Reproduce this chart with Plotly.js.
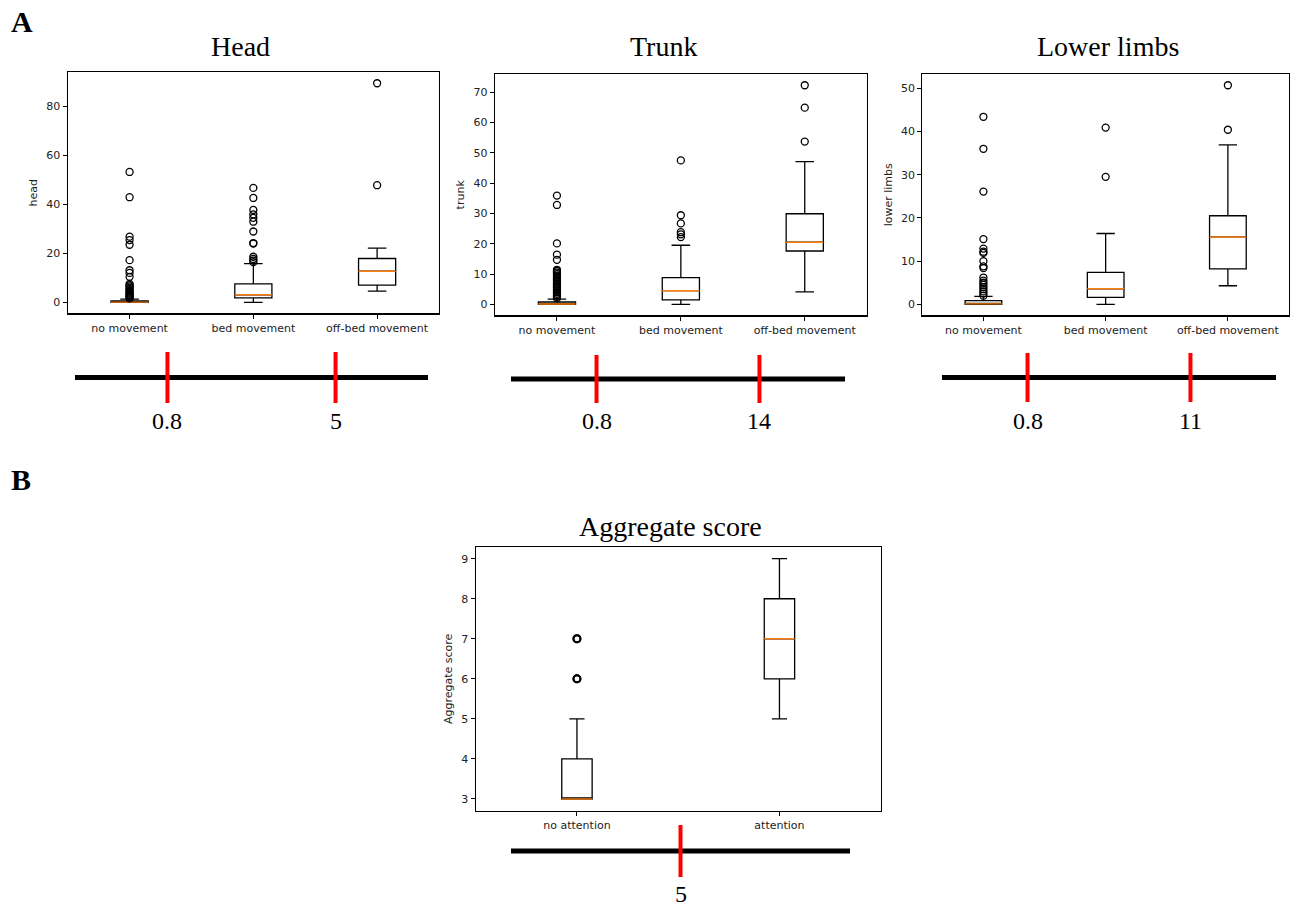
<!DOCTYPE html>
<html>
<head>
<meta charset="utf-8">
<script src="https://cdn.plot.ly/plotly-3.0.1.min.js"></script>
<style>html,body{margin:0;padding:0;background:#fff;}#chart{width:1295px;height:907px;}</style>
</head>
<body>
<div id="chart"></div>
<script>
// ---------- data ----------
const movementCats = ["no movement", "bed movement", "off-bed movement"];
const attentionCats = ["no attention", "attention"];

// Head
const headQ1  = [0, 1.8, 7.0];
const headMed = [0.1, 3.1, 12.7];
const headQ3  = [0.6, 7.5, 17.9];
const headLo  = [0, 0, 4.6];
const headHi  = [1.3, 15.8, 22.1];
const headOutNo  = [1.6, 2.0, 2.4, 2.8, 3.2, 3.6, 4.0, 4.5, 5.0, 5.5, 6.0, 6.5, 7.0, 7.5, 10.4, 12.0, 13.1, 17.2, 23.5, 25.4, 26.8, 42.9, 53.2];
const headOutBed = [16.4, 17.0, 17.7, 18.6, 24.0, 24.2, 28.9, 32.9, 34.5, 35.9, 37.7, 42.6, 46.7];
const headOutOff = [47.8, 89.4];

// Trunk
const trunkQ1  = [0, 1.5, 17.6];
const trunkMed = [0.1, 4.5, 20.5];
const trunkQ3  = [0.8, 8.8, 29.9];
const trunkLo  = [0, 0, 4.1];
const trunkHi  = [1.7, 19.5, 47.1];
const trunkOutNo  = [2, 2.5, 3, 3.5, 4, 4.5, 5, 5.5, 6, 6.5, 7, 7.5, 8, 8.5, 9, 9.5, 10, 10.5, 11, 11.4, 14.7, 16.4, 20.1, 32.8, 35.9];
const trunkOutBed = [22.2, 23.1, 23.8, 26.7, 29.4, 47.5];
const trunkOutOff = [53.7, 64.9, 72.3];

// Lower limbs
const lowerQ1  = [0, 1.6, 8.2];
const lowerMed = [0.1, 3.6, 15.6];
const lowerQ3  = [0.85, 7.4, 20.5];
const lowerLo  = [0, 0, 4.3];
const lowerHi  = [1.85, 16.4, 36.9];
const lowerOutNo  = [2, 2.5, 3, 3.5, 4, 4.5, 5, 5.5, 6.2, 8.4, 8.8, 10, 11.9, 12.2, 12.9, 15.1, 26.1, 36.0, 43.4];
const lowerOutBed = [29.5, 40.9];
const lowerOutOff = [40.4, 50.7];

// Aggregate score
const aggQ1  = [3, 6];
const aggMed = [3, 7];
const aggQ3  = [4, 8];
const aggLo  = [3, 5];
const aggHi  = [5, 9];
const aggOutNo  = [6, 6, 7, 7];
const aggOutAtt = [];

// Thresholds
const headThresholds  = ["0.8", "5"];
const trunkThresholds = ["0.8", "14"];
const lowerThresholds = ["0.8", "11"];
const aggThresholds   = ["5"];

// ---------- build ----------
const W = 1295, H = 907;
const px = v => v / W;
const py = v => 1 - v / H;
const ORANGE = "#ff7f0e";
const tickFont = {family: "DejaVu Sans, sans-serif", size: 11, color: "#222"};
const serif = "Liberation Serif, Times New Roman, serif";

const traces = [];
function panel(ax, cats, q1, med, q3, lo, hi, outs, boxW, mw) {
  const xs = cats.map((c, i) => i + 1);
  traces.push({
    type: "box", xaxis: "x" + ax, yaxis: "y" + ax,
    x: xs, q1: q1, median: med, q3: q3, lowerfence: lo, upperfence: hi,
    width: boxW, whiskerwidth: 0.5, boxpoints: false,
    line: {color: "#000", width: 1.3}, fillcolor: "rgba(255,255,255,0)",
    showlegend: false, hoverinfo: "skip"
  });
  const mx = [], my = [];
  xs.forEach((x, i) => { mx.push(x - boxW / 2, x + boxW / 2, null); my.push(med[i], med[i], null); });
  traces.push({type: "scatter", mode: "lines", xaxis: "x" + ax, yaxis: "y" + ax,
    x: mx, y: my, line: {color: ORANGE, width: 1.4}, showlegend: false, hoverinfo: "skip"});
  const ox = [], oy = [];
  outs.forEach((arr, i) => arr.forEach(v => { ox.push(i + 1); oy.push(v); }));
  traces.push({type: "scatter", mode: "markers", xaxis: "x" + ax, yaxis: "y" + ax,
    x: ox, y: oy, marker: {symbol: "circle-open", size: 7, color: "#000", line: {width: mw, color: "#000"}},
    showlegend: false, hoverinfo: "skip"});
  const all = lo.concat(hi).concat(...outs);
  const mn = Math.min(...all), mxv = Math.max(...all), span = mxv - mn;
  return [mn - 0.05 * span, mxv + 0.05 * span];
}

const r1 = panel(1, movementCats, headQ1, headMed, headQ3, headLo, headHi, [headOutNo, headOutBed, headOutOff], 0.3, 1.3);
const r2 = panel(2, movementCats, trunkQ1, trunkMed, trunkQ3, trunkLo, trunkHi, [trunkOutNo, trunkOutBed, trunkOutOff], 0.3, 1.3);
const r3 = panel(3, movementCats, lowerQ1, lowerMed, lowerQ3, lowerLo, lowerHi, [lowerOutNo, lowerOutBed, lowerOutOff], 0.3, 1.3);
const r4 = panel(4, attentionCats, aggQ1, aggMed, aggQ3, aggLo, aggHi, [aggOutNo, aggOutAtt], 0.15, 2);

const annotations = [];
const lineRanges = {};
function numberLine(ax, labels, labelY, pad) {
  const n = labels.length;
  const rng = [-pad, 2 * n + pad];
  lineRanges[ax] = rng;
  traces.push({type: "scatter", mode: "lines", xaxis: "x" + ax, yaxis: "y" + ax,
    x: rng, y: [0, 0], line: {color: "#000", width: 5}, showlegend: false, hoverinfo: "skip"});
  const rx = [], ry = [];
  labels.forEach((l, i) => { rx.push(2 * i + 1, 2 * i + 1, null); ry.push(-1, 1, null); });
  traces.push({type: "scatter", mode: "lines", xaxis: "x" + ax, yaxis: "y" + ax,
    x: rx, y: ry, line: {color: "#ff0000", width: 4}, showlegend: false, hoverinfo: "skip"});
  labels.forEach((l, i) => annotations.push({
    text: l, xref: "x" + ax, yref: "paper", x: 2 * i + 1, y: labelY,
    xanchor: "center", yanchor: "middle", showarrow: false,
    font: {family: serif, size: 24, color: "#000"}
  }));
}
numberLine(5, headThresholds, py(421), 0.1);
numberLine(6, trunkThresholds, py(421), 0.05);
numberLine(7, lowerThresholds, py(421), 0.05);
numberLine(8, aggThresholds, py(894), 0);

function xAx(domain, cats) {
  return {domain: domain, range: [0.5, cats.length + 0.5], tickvals: cats.map((c, i) => i + 1), ticktext: cats,
    ticks: "outside", ticklen: 4, tickcolor: "#000", tickfont: tickFont,
    showline: true, mirror: true, linecolor: "#000", linewidth: 1.2, showgrid: false, zeroline: false, fixedrange: true};
}
function yAx(domain, range, dtick, title, anchor) {
  return {domain: domain, range: range, dtick: dtick, anchor: anchor,
    ticks: "outside", ticklen: 4, tickcolor: "#000", tickfont: tickFont,
    showline: true, mirror: true, linecolor: "#000", linewidth: 1.2, showgrid: false, zeroline: false,
    title: {text: title, font: {family: "DejaVu Sans, sans-serif", size: 11, color: "#222"}, standoff: 6}};
}
function hidden(domain, range, anchor) {
  return {domain: domain, range: range, visible: false, showgrid: false, zeroline: false, anchor: anchor, fixedrange: true};
}

const layout = {
  width: W, height: H, margin: {l: 0, r: 0, t: 0, b: 0},
  paper_bgcolor: "#fff", plot_bgcolor: "#fff", showlegend: false,
  xaxis:  Object.assign(xAx([px(67.7), px(439)], movementCats), {anchor: "y"}),
  yaxis:  yAx([py(313.3), py(72.3)], r1, 20, "head", "x"),
  xaxis2: Object.assign(xAx([px(495), px(866.7)], movementCats), {anchor: "y2"}),
  yaxis2: yAx([py(315.3), py(74.3)], r2, 10, "trunk", "x2"),
  xaxis3: Object.assign(xAx([px(922.3), px(1289)], movementCats), {anchor: "y3"}),
  yaxis3: yAx([py(315.3), py(74.3)], r3, 10, "lower limbs", "x3"),
  xaxis4: Object.assign(xAx([px(475.7), px(880.7)], attentionCats), {anchor: "y4"}),
  yaxis4: yAx([py(811), py(546.7)], r4, 1, "Aggregate score", "x4"),
  xaxis5: hidden([px(75), px(428)], lineRanges[5], "y5"),
  yaxis5: hidden([py(403), py(352)], [-1, 1], "x5"),
  xaxis6: hidden([px(511), px(845)], lineRanges[6], "y6"),
  yaxis6: hidden([py(403), py(355)], [-1, 1], "x6"),
  xaxis7: hidden([px(942), px(1276)], lineRanges[7], "y7"),
  yaxis7: hidden([py(402), py(353)], [-1, 1], "x7"),
  xaxis8: hidden([px(511), px(850)], lineRanges[8], "y8"),
  yaxis8: hidden([py(877), py(825)], [-1, 1], "x8"),
  annotations: annotations.concat([
    {text: "<b>A</b>", xref: "paper", yref: "paper", x: px(22), y: py(21), xanchor: "center", yanchor: "middle", showarrow: false, font: {family: serif, size: 30, color: "#000"}},
    {text: "<b>B</b>", xref: "paper", yref: "paper", x: px(21), y: py(479), xanchor: "center", yanchor: "middle", showarrow: false, font: {family: serif, size: 30, color: "#000"}},
    {text: "Head", xref: "paper", yref: "paper", x: px(240), y: py(47), xanchor: "center", yanchor: "middle", showarrow: false, font: {family: serif, size: 28, color: "#000"}},
    {text: "Trunk", xref: "paper", yref: "paper", x: px(663), y: py(47), xanchor: "center", yanchor: "middle", showarrow: false, font: {family: serif, size: 28, color: "#000"}},
    {text: "Lower limbs", xref: "paper", yref: "paper", x: px(1108), y: py(47), xanchor: "center", yanchor: "middle", showarrow: false, font: {family: serif, size: 28, color: "#000"}},
    {text: "Aggregate score", xref: "paper", yref: "paper", x: px(670), y: py(526), xanchor: "center", yanchor: "middle", showarrow: false, font: {family: serif, size: 28, color: "#000"}}
  ])
};

Plotly.newPlot("chart", traces, layout, {displayModeBar: false, staticPlot: true});
</script>
</body>
</html>
